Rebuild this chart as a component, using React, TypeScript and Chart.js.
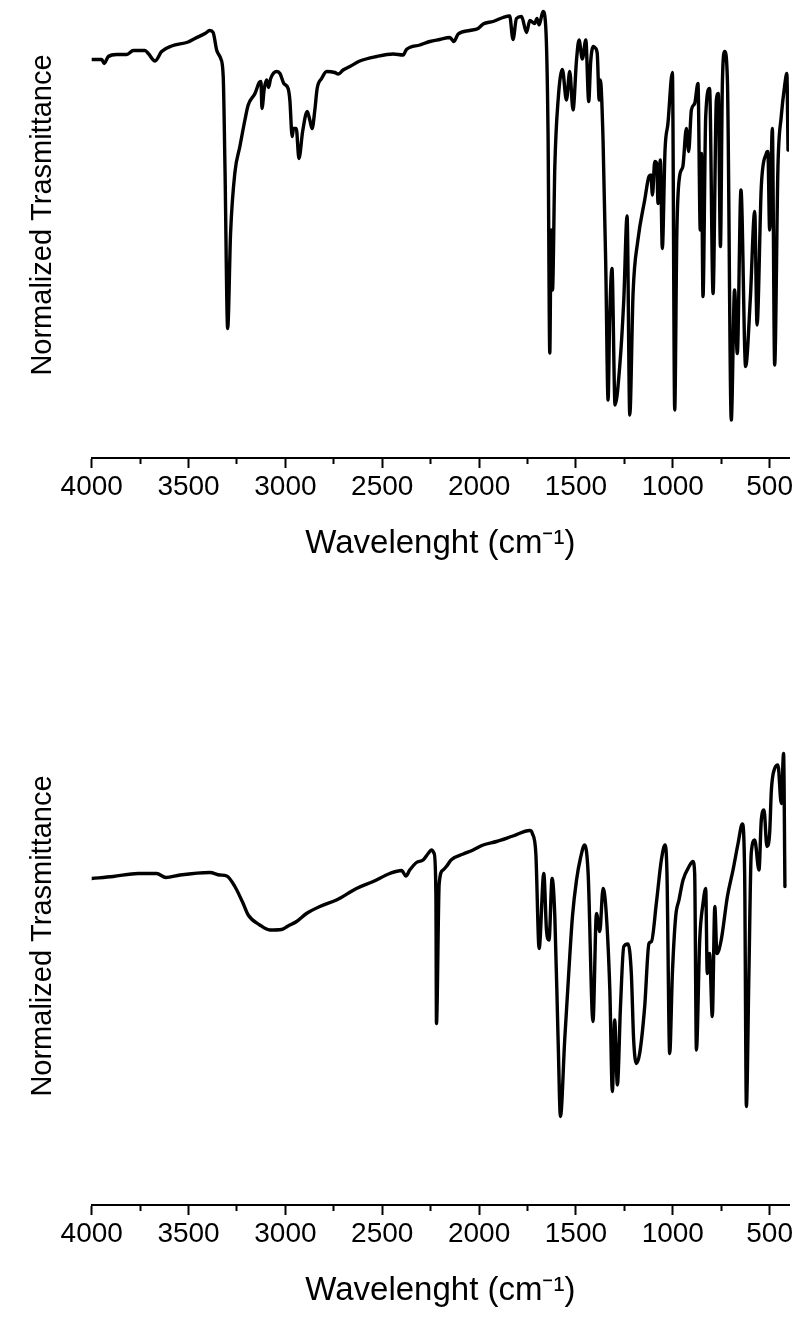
import React, { useEffect, useRef } from 'react';
import { Chart, registerables } from 'chart.js';

Chart.register(...registerables);

const FONT = '"Liberation Sans", Arial, Helvetica, sans-serif';

// ---- Top spectrum (wavenumber cm-1, normalized transmittance, arbitrary units) ----
const topWavenumbers = [
  4000, 3948, 3936, 3914, 3871, 3819, 3785, 3725, 3708, 3673, 3639, 3587, 3502, 3467, 3415, 3390, 3373, 3355, 3334, 3321,
  3312, 3298, 3283, 3261, 3235, 3209, 3192, 3157, 3135, 3126, 3121, 3109, 3097, 3087, 3076, 3045, 3028, 3008, 2986, 2977,
  2965, 2958, 2944, 2930, 2911, 2887, 2874, 2862, 2848, 2836, 2813, 2787, 2745, 2727, 2702, 2667, 2616, 2530, 2444, 2392,
  2375, 2306, 2254, 2203, 2151, 2130, 2108, 2048, 2005, 1979, 1928, 1876, 1842, 1825, 1807, 1781, 1755, 1738, 1713, 1701,
  1690, 1670, 1656, 1644, 1635, 1628, 1621, 1609, 1592, 1570, 1549, 1532, 1515, 1497, 1484, 1467, 1449, 1434, 1424, 1410,
  1400, 1390, 1380, 1374, 1360, 1346, 1334, 1326, 1314, 1298, 1274, 1253, 1236, 1222, 1205, 1180, 1145, 1123, 1113, 1105,
  1093, 1083, 1076, 1064, 1054, 1040, 1025, 1002, 990, 979, 965, 948, 930, 918, 904, 887, 870, 858, 852, 844,
  830, 810, 792, 775, 765, 754, 744, 732, 718, 698, 681, 667, 648, 624, 600, 577, 565, 543, 517, 509,
  500, 486, 474, 457, 440, 423, 411, 405,
];
const topTransmittance = [
  79.7, 79.7, 78.9, 80.3, 80.7, 80.7, 81.5, 81.5, 80.9, 79.4, 81.3, 82.4, 83.2, 83.9, 84.9, 85.5, 85.1, 81.6, 79.9, 76.3,
  58.3, 25.9, 45.0, 57.0, 62.3, 67.6, 70.6, 72.9, 75.1, 75.3, 69.9, 73.9, 75.6, 74.1, 75.9, 77.3, 76.9, 74.9, 73.9, 71.6,
  64.3, 65.9, 65.9, 59.9, 65.3, 69.3, 67.6, 65.9, 69.6, 73.9, 75.9, 77.3, 77.1, 76.8, 77.6, 78.3, 79.4, 80.3, 80.8, 80.6,
  81.7, 82.6, 83.3, 83.7, 84.1, 83.3, 84.8, 85.5, 85.9, 86.8, 87.3, 88.1, 88.4, 83.7, 87.9, 88.3, 85.1, 87.5, 86.9, 87.9,
  86.6, 89.3, 86.3, 65.0, 21.0, 45.6, 33.6, 58.3, 71.6, 77.7, 71.6, 77.3, 69.6, 79.6, 83.6, 79.8, 83.6, 71.3, 79.2, 82.3,
  82.0, 80.9, 71.6, 75.6, 63.6, 38.3, 11.6, 27.6, 37.9, 10.6, 18.3, 31.6, 48.4, 8.6, 33.0, 43.6, 51.6, 56.3, 56.6, 52.6,
  59.3, 58.9, 50.9, 59.6, 41.9, 61.6, 66.9, 77.1, 9.6, 45.0, 56.3, 58.3, 65.9, 61.3, 69.6, 70.9, 74.9, 45.6, 60.9, 32.3,
  68.3, 73.9, 32.9, 71.6, 72.9, 42.3, 74.9, 81.3, 75.6, 7.6, 33.6, 20.9, 53.6, 18.3, 31.6, 49.3, 26.6, 54.3, 60.9, 61.3,
  45.6, 65.9, 18.6, 58.3, 68.3, 74.3, 76.9, 61.6,
];

// ---- Bottom spectrum ----
const bottomWavenumbers = [
  4000, 3889, 3760, 3665, 3617, 3544, 3390, 3338, 3303, 3261, 3218, 3192, 3132, 3080, 3020, 2986, 2942, 2891, 2822, 2736,
  2633, 2547, 2461, 2400, 2378, 2358, 2323, 2289, 2263, 2246, 2232, 2223, 2220, 2206, 2186, 2169, 2142, 2082, 2031, 1979,
  1910, 1825, 1738, 1725, 1707, 1690, 1666, 1652, 1639, 1623, 1609, 1592, 1580, 1558, 1532, 1518, 1497, 1477, 1455, 1437,
  1412, 1394, 1377, 1360, 1346, 1325, 1312, 1300, 1286, 1270, 1253, 1231, 1214, 1202, 1188, 1171, 1145, 1123, 1110, 1085,
  1059, 1040, 1030, 1016, 1002, 985, 968, 947, 916, 896, 887, 878, 861, 844, 830, 822, 810, 796, 783, 772,
  750, 718, 689, 663, 641, 629, 620, 607, 595, 577, 555, 543, 529, 514, 500, 491, 474, 457, 440, 428,
  421,
];
const bottomTransmittance = [
  65.3, 65.7, 66.3, 66.3, 65.5, 66.0, 66.5, 66.0, 65.8, 63.7, 60.3, 58.0, 56.0, 55.0, 55.1, 55.8, 56.7, 58.3, 59.7, 61.0,
  63.3, 64.7, 66.3, 66.9, 65.8, 67.0, 68.5, 69.0, 70.3, 71.0, 70.3, 62.3, 36.3, 64.3, 67.0, 67.7, 69.1, 70.2, 71.0, 72.0,
  72.7, 73.8, 74.9, 74.3, 70.3, 51.3, 66.3, 55.0, 53.0, 65.3, 57.7, 33.0, 17.7, 33.0, 49.7, 57.7, 65.0, 69.3, 72.0, 66.3,
  36.7, 58.3, 54.7, 63.3, 59.7, 43.0, 22.7, 37.0, 24.0, 39.7, 51.7, 52.2, 46.3, 33.0, 28.3, 30.3, 39.7, 52.3, 52.7, 60.3,
  69.0, 72.0, 66.3, 30.3, 46.3, 57.7, 61.0, 65.0, 67.7, 68.7, 66.3, 31.0, 53.0, 60.3, 63.3, 46.3, 50.3, 37.7, 59.7, 50.3,
  53.0, 61.7, 67.0, 72.3, 76.2, 66.3, 19.7, 46.3, 70.3, 73.0, 67.0, 77.0, 79.0, 71.7, 74.3, 83.0, 87.3, 88.0, 80.3, 90.3,
  63.7,
];

// ---- Axes ----
const xMin = 400;
const xMax = 4000;
const tickValues = [500, 750, 1000, 1250, 1500, 1750, 2000, 2250, 2500, 2750, 3000, 3250, 3500, 3750, 4000];
const labelledTicks = [500, 1000, 1500, 2000, 2500, 3000, 3500, 4000];
const topYMax = 97.2;
const bottomYMax = 107.6;
const xTitle = 'Wavelenght (cm\u207B\u00B9)';
const yTitle = 'Normalized Trasmittance';

type SpecProps = { xs: number[]; ys: number[]; yMax: number; pageTop: number; canvasHeight: number };

function Spectrum({ xs, ys, yMax, pageTop, canvasHeight }: SpecProps) {
  const ref = useRef<HTMLCanvasElement | null>(null);
  useEffect(() => {
    const canvas = ref.current;
    if (!canvas) return;
    const isMajor = (v: number) => labelledTicks.includes(v);
    const chart = new Chart(canvas, {
      type: 'line',
      data: {
        datasets: [
          {
            data: xs.map((x, i) => ({ x, y: ys[i] })),
            borderColor: '#000',
            borderWidth: 3.4,
            pointRadius: 0,
            fill: false,
            cubicInterpolationMode: 'monotone',
            borderJoinStyle: 'round',
            borderCapStyle: 'round',
          },
        ],
      },
      options: {
        responsive: false,
        animation: false,
        devicePixelRatio: 1,
        events: [],
        layout: { padding: { left: 0, right: 7, top: 12, bottom: 0 } },
        plugins: { legend: { display: false }, tooltip: { enabled: false }, title: { display: false } },
        scales: {
          x: {
            type: 'linear',
            position: 'bottom',
            reverse: true,
            min: xMin,
            max: xMax,
            afterBuildTicks: (scale: any) => {
              scale.ticks = tickValues.map((v) => ({ value: v }));
            },
            afterFit: (scale: any) => {
              scale.height = 106;
              scale.paddingLeft = 0;
              scale.paddingRight = 0;
            },
            border: { display: true, color: '#000', width: 2 },
            grid: {
              display: true,
              drawOnChartArea: false,
              drawTicks: true,
              tickLength: 10,
              tickWidth: 2,
              tickColor: '#000',
              color: '#000',
              tickBorderDash: (ctx: any) => (ctx.tick && !isMajor(ctx.tick.value) ? [5, 100] : []),
            },
            ticks: {
              autoSkip: false,
              maxRotation: 0,
              minRotation: 0,
              padding: 2,
              color: '#000',
              font: { family: FONT, size: 28 },
              callback: (v: any) => (isMajor(Number(v)) ? String(v) : ''),
            },
            title: {
              display: true,
              text: xTitle,
              color: '#000',
              font: { family: FONT, size: 33 },
              padding: { top: 0, bottom: 0 },
            },
          },
          y: {
            type: 'linear',
            position: 'left',
            min: 0,
            max: yMax,
            afterFit: (scale: any) => {
              scale.width = 91.7;
            },
            border: { display: false },
            grid: { display: false },
            ticks: { display: false },
            title: {
              display: true,
              text: yTitle,
              color: '#000',
              font: { family: FONT, size: 29 },
              padding: { top: 25.9, bottom: 0 },
            },
          },
        },
      },
    } as any);
    return () => chart.destroy();
  }, [xs, ys, yMax]);

  return (
    <canvas
      ref={ref}
      width={796}
      height={canvasHeight}
      style={{ position: 'absolute', left: 0, top: pageTop, width: 796, height: canvasHeight, display: 'block' }}
    />
  );
}

export default function App() {
  return (
    <div
      style={{
        position: 'absolute',
        left: 0,
        top: 0,
        width: 796,
        height: 1322,
        overflow: 'hidden',
        background: '#fff',
      }}
    >
      <Spectrum xs={topWavenumbers} ys={topTransmittance} yMax={topYMax} pageTop={-40} canvasHeight={604} />
      <Spectrum xs={bottomWavenumbers} ys={bottomTransmittance} yMax={bottomYMax} pageTop={655} canvasHeight={656} />
    </div>
  );
}
